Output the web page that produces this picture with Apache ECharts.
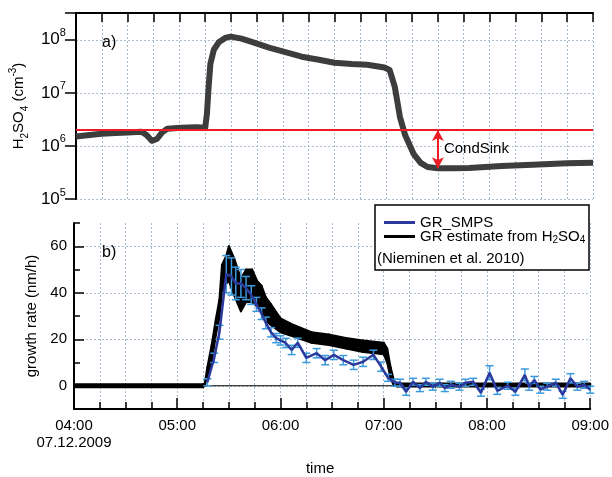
<!DOCTYPE html>
<html>
<head>
<meta charset="utf-8">
<script src="https://cdn.jsdelivr.net/npm/echarts@6/dist/echarts.min.js"></script>
<style>
  html, body { margin: 0; padding: 0; background: #fff; }
  #chart { width: 612px; height: 477px; }
</style>
</head>
<body>
<div id="chart"></div>
<script>
// time axis: minutes after 04:00
const timeLabels = ['04:00', '05:00', '06:00', '07:00', '08:00', '09:00'];
const dateLabel = '07.12.2009';

// panel a) H2SO4 concentration (cm^-3)
const h2so4Time = [0, 8, 15, 23, 30, 38, 41, 44, 47, 50, 53, 61, 70, 75, 76, 77, 78, 80, 83, 87, 90, 96,
  102, 112, 121, 131, 141, 150, 160, 169, 179, 182, 185, 188, 191, 196, 200, 204, 210, 218, 228, 247, 265, 285, 300];
const h2so4Conc = [1.5e6, 1.6e6, 1.7e6, 1.75e6, 1.8e6, 1.85e6, 1.6e6, 1.25e6, 1.35e6, 1.8e6, 2.1e6, 2.2e6, 2.25e6, 2.2e6,
  4e6, 1.3e7, 3.5e7, 6.5e7, 9.1e7, 1.1e8, 1.15e8, 1.05e8, 9.1e7, 7.1e7, 5.9e7, 4.8e7, 4.2e7, 3.7e7, 3.5e7, 3.4e7,
  3e7, 2.7e7, 1.3e7, 3.5e6, 1.6e6, 7e5, 4.8e5, 4e5, 3.8e5, 3.8e5, 3.85e5, 4.2e5, 4.4e5, 4.7e5, 4.8e5];
const condSinkLevel = 2e6;
const condSinkTime = 210;
const condSinkLow = 3.8e5;

// panel b) GR estimate from H2SO4 (noisy band: lower / upper edge)
const grEstTime = [0, 75, 76, 77.5, 80, 82.5, 84.5, 86, 88.5, 90, 93, 97, 100, 103.5, 106.5, 109, 111.5, 114.5,
  120, 128, 138, 148, 158, 168, 180, 182, 184, 186, 188, 300];
const grEstLow = [-0.6, -0.6, 0, 4, 10, 22, 29, 40, 44, 45, 39, 32, 36, 36, 34, 32, 28, 26,
  23, 21, 18.5, 17.5, 16, 14.5, 13.5, 10, 3, 0, -0.3, -0.3];
const grEstHigh = [0.6, 0.6, 1, 8, 17.5, 29, 37, 52, 56, 60, 55, 46, 50, 50, 45, 43, 38, 35,
  29, 26, 23, 22, 20.5, 19.5, 18.5, 16, 8, 2, 1, 1];

// panel b) GR_SMPS with error
const smpsTime = [77.5, 81.5, 84.5, 88.5, 91.5, 94, 97, 100, 103, 106, 109, 111.5, 114.5, 117.5, 120, 123, 126.5,
  130, 135, 141, 146, 151, 156.5, 162.5, 168, 174, 178.5, 182.5, 186.5, 189.5, 193, 197, 201, 204.5, 208.5,
  212.5, 215.5, 219, 224, 227.5, 232, 236.5, 241.5, 246, 252, 256.5, 262, 264.5, 267.5, 271, 275, 280, 284,
  288.5, 292.5, 296.5, 300];
const smpsRate = [1.5, 12, 23, 48, 47, 44, 44, 42, 39, 35, 31, 27, 23, 20.5, 19.5, 18.4, 15.4,
  18.5, 12, 14, 11, 13.3, 11, 9, 10.3, 13.3, 8.2, 3.4, 1.3, 1.3, -2.6, 1.7, -1, 1.7, -0.4,
  1.3, -1, 0.4, -0.4, 1.3, 1.7, -3, 5.6, -2.2, 0, -2.6, 4.7, -0.4, 2.5, -1.7, -0.4, 1.3, -3.9,
  3.2, -0.4, 0.4, -1.7];
const smpsErr = [1.5, 2, 3, 8, 8, 7, 6, 5, 4, 3, 2.5, 2.5, 2, 2, 2, 2, 2,
  2, 2, 2, 2, 2, 2, 2, 2, 2, 2, 1.5, 1.5, 1.5, 1.5, 1.5, 1.5, 1.5, 1.5,
  1.5, 1.5, 1.5, 1.5, 1.5, 1.5, 1.5, 3, 1.5, 1.5, 1.5, 2.5, 1.5, 1.5, 1.5, 1.5, 1.5, 1.5,
  2, 1.5, 1.5, 1.5];

const FONT = '"Liberation Sans", Arial, sans-serif';
const gridColor = '#a7bccf';
const blue = '#2b3a9c';
const errBlue = '#3b9ade';

const chart = echarts.init(document.getElementById('chart'));

const split = { show: true, lineStyle: { color: gridColor, type: [2, 2], width: 1 } };
const axLine = { show: true, onZero: false, lineStyle: { color: '#000', width: 2 } };
const tickStyle = { color: '#000', width: 1.5 };

function timeLabel(v) {
  const i = Math.round(v / 60);
  return i === 0 ? timeLabels[0] + '\n' + dateLabel : timeLabels[i];
}

// error bars of GR_SMPS
function renderErr(params, api) {
  const t = api.value(0);
  const top = api.coord([t, api.value(2)]);
  const bot = api.coord([t, api.value(1)]);
  const hw = 4;
  const st = { stroke: errBlue, lineWidth: 1.5 };
  return {
    type: 'group',
    children: [
      { type: 'line', shape: { x1: top[0], y1: top[1], x2: bot[0], y2: bot[1] }, style: st },
      { type: 'line', shape: { x1: top[0] - hw, y1: top[1], x2: top[0] + hw, y2: top[1] }, style: st },
      { type: 'line', shape: { x1: bot[0] - hw, y1: bot[1], x2: bot[0] + hw, y2: bot[1] }, style: st }
    ]
  };
}

// noisy black band, one piece between neighbouring samples
function renderBand(params, api) {
  const i = params.dataIndex;
  if (i >= grEstTime.length - 1) return null;
  const pts = [
    api.coord([grEstTime[i], grEstLow[i]]),
    api.coord([grEstTime[i + 1], grEstLow[i + 1]]),
    api.coord([grEstTime[i + 1], grEstHigh[i + 1]]),
    api.coord([grEstTime[i], grEstHigh[i]])
  ];
  return {
    type: 'polygon', shape: { points: pts },
    style: { fill: '#000', stroke: '#000', lineWidth: 2, lineJoin: 'round' }
  };
}

const option = {
  animation: false,
  textStyle: { fontFamily: FONT },
  grid: [
    { left: 74, right: 19, top: 13, height: 186 },
    { left: 74, right: 19, top: 223, height: 186 }
  ],
  xAxis: [
    {
      gridIndex: 0, type: 'value', position: 'top', min: 0, max: 300, interval: 60,
      axisLine: axLine,
      axisTick: { show: true, inside: true, length: 9, lineStyle: tickStyle },
      minorTick: { show: true, splitNumber: 4, length: 9, lineStyle: tickStyle },
      axisLabel: { show: false },
      splitLine: split, minorSplitLine: split
    },
    {
      gridIndex: 1, type: 'value', position: 'bottom', min: 0, max: 300, interval: 60,
      axisLine: axLine,
      axisTick: { show: true, inside: true, length: 11, lineStyle: tickStyle },
      minorTick: { show: true, splitNumber: 4, length: 7, lineStyle: tickStyle },
      axisLabel: {
        margin: 8, fontSize: 15, lineHeight: 17, color: '#000',
        showMinLabel: true, showMaxLabel: true, formatter: timeLabel
      },
      splitLine: split, minorSplitLine: split,
      name: 'time', nameLocation: 'middle', nameGap: 52,
      nameTextStyle: { fontSize: 15, color: '#000', padding: [0, 24, 0, 0] }
    }
  ],
  yAxis: [
    {
      gridIndex: 0, type: 'log', min: 1e5, max: 3.2e8,
      axisLine: axLine,
      axisTick: { show: true, inside: false, length: 11, lineStyle: tickStyle },
      axisLabel: {
        margin: 10,
        formatter: function (v) {
          const e = Math.log10(v);
          return Math.abs(e - Math.round(e)) < 1e-6 ? '{b|10}{e|' + Math.round(e) + '}' : '';
        },
        rich: {
          b: { fontSize: 17, lineHeight: 24, color: '#000' },
          e: { fontSize: 11, verticalAlign: 'top', color: '#000' }
        }
      },
      splitLine: split,
      name: '{n|H}{s|2}{n|SO}{s|4}{n| (cm}{p|-3}{n|)}',
      nameLocation: 'middle', nameGap: 42, nameRotate: 90,
      nameTextStyle: {
        rich: {
          n: { fontSize: 15, lineHeight: 22, color: '#000' },
          s: { fontSize: 10, lineHeight: 8, verticalAlign: 'bottom', color: '#000' },
          p: { fontSize: 10, verticalAlign: 'top', color: '#000' }
        }
      }
    },
    {
      gridIndex: 1, type: 'value', position: 'left', min: -10, max: 70, interval: 10,
      axisLine: axLine,
      axisTick: { show: true, inside: true, length: 10, lineStyle: tickStyle, customValues: [0, 20, 40, 60] },
      axisLabel: { margin: 7, fontSize: 15, color: '#000', customValues: [0, 20, 40, 60] },
      splitLine: split,
      name: 'growth rate (nm/h)', nameLocation: 'middle', nameGap: 32,
      nameTextStyle: { fontSize: 15, color: '#000' }
    },
    {
      gridIndex: 1, type: 'value', position: 'left', offset: 0, min: -10, max: 70, interval: 10,
      axisLine: { show: false },
      axisTick: { show: true, inside: true, length: 6, lineStyle: tickStyle, customValues: [10, 30, 50, 70] },
      axisLabel: { show: false },
      splitLine: { show: false }
    }
  ],
  legend: {
    left: 379, top: 210, orient: 'vertical', itemGap: -1,
    itemWidth: 31, itemHeight: 3, icon: 'rect', z: 12,
    data: ['GR_SMPS', 'GR estimate from H2SO4'],
    formatter: function (name) {
      return name === 'GR_SMPS' ? '{n|GR_SMPS}' : '{n|GR estimate from H}{s|2}{n|SO}{s|4}';
    },
    textStyle: {
      fontSize: 15, color: '#000',
      rich: {
        n: { fontSize: 15, lineHeight: 18, color: '#000' },
        s: { fontSize: 10, lineHeight: 8, verticalAlign: 'bottom', color: '#000' }
      }
    }
  },
  graphic: [
    { type: 'rect', z: 10, shape: { x: 375, y: 205, width: 214, height: 65 },
      style: { fill: '#fff', stroke: '#000', lineWidth: 1.5 } },
    { type: 'text', z: 12, x: 377, y: 259,
      style: { text: '(Nieminen et al. 2010)', font: '15px ' + FONT, fill: '#000', textVerticalAlign: 'middle' } },
    { type: 'text', z: 12, x: 102, y: 43,
      style: { text: 'a)', font: '16px ' + FONT, fill: '#000', textVerticalAlign: 'middle' } },
    { type: 'text', z: 12, x: 102, y: 253,
      style: { text: 'b)', font: '16px ' + FONT, fill: '#000', textVerticalAlign: 'middle' } }
  ],
  series: [
    {
      name: 'H2SO4', type: 'line', xAxisIndex: 0, yAxisIndex: 0, symbol: 'none', z: 2,
      data: h2so4Time.map((t, i) => [t, h2so4Conc[i]]),
      lineStyle: { color: '#3d3d3d', width: 6, join: 'round' }
    },
    {
      name: 'CondSink level', type: 'line', xAxisIndex: 0, yAxisIndex: 0, symbol: 'none', z: 3,
      data: [[0, condSinkLevel], [300, condSinkLevel]],
      lineStyle: { color: '#ee1c24', width: 2 },
      markLine: {
        silent: true, symbol: ['arrow', 'arrow'], symbolSize: [9, 11],
        lineStyle: { color: '#ee1c24', width: 2, type: 'solid' },
        label: { show: false },
        data: [[{ coord: [condSinkTime, condSinkLevel] }, { coord: [condSinkTime, condSinkLow] }]]
      },
      markPoint: {
        silent: true, symbolSize: 0,
        label: { show: true, position: 'right', distance: 6, formatter: 'CondSink', fontSize: 15, color: '#000' },
        data: [{ coord: [condSinkTime, 8.7e5] }]
      }
    },
    {
      name: 'zero', type: 'line', xAxisIndex: 1, yAxisIndex: 1, symbol: 'none', z: 1,
      data: [[0, 0], [300, 0]],
      lineStyle: { color: '#000', width: 1 }
    },
    {
      name: 'GR estimate from H2SO4', type: 'custom', xAxisIndex: 1, yAxisIndex: 1, z: 2,
      itemStyle: { color: '#000' },
      renderItem: renderBand,
      encode: { x: 0, y: [1, 2] },
      data: grEstTime.map((t, i) => [t, grEstLow[i], grEstHigh[i]])
    },
    {
      name: 'smpsErr', type: 'custom', xAxisIndex: 1, yAxisIndex: 1, z: 3,
      renderItem: renderErr,
      encode: { x: 0, y: [1, 2] },
      data: smpsTime.map((t, i) => [t, smpsRate[i] - smpsErr[i], smpsRate[i] + smpsErr[i]])
    },
    {
      name: 'GR_SMPS', type: 'line', xAxisIndex: 1, yAxisIndex: 1, symbol: 'none', z: 4,
      color: blue,
      data: smpsTime.map((t, i) => [t, smpsRate[i]]),
      lineStyle: { color: blue, width: 2.5 }
    }
  ]
};

chart.setOption(option);
</script>
</body>
</html>
